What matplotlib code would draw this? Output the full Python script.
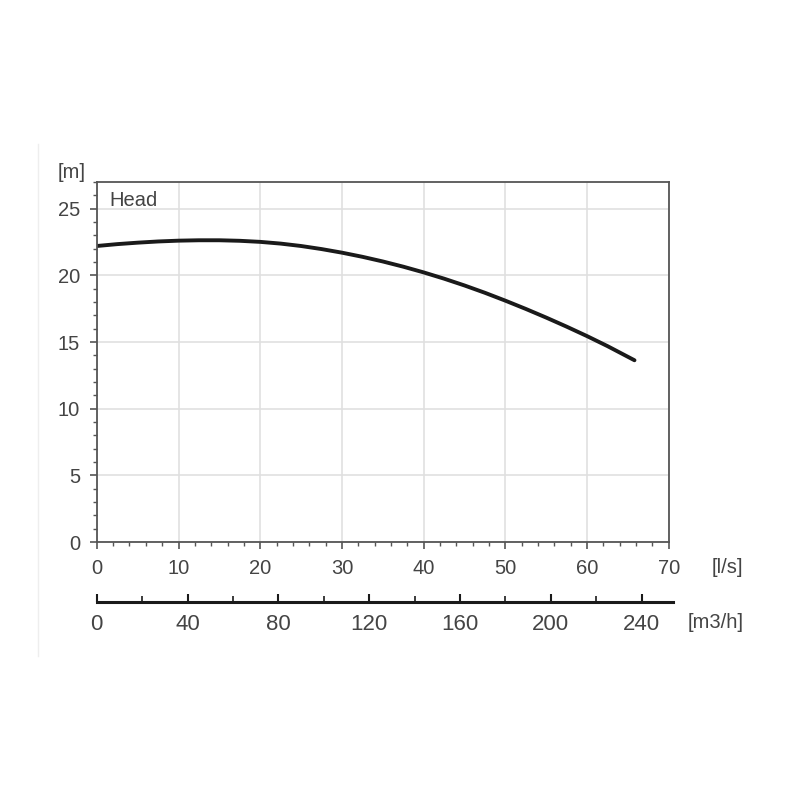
import matplotlib.pyplot as plt
from matplotlib.ticker import MultipleLocator

plt.rcParams['font.family'] = ['Liberation Sans', 'DejaVu Sans']

# Pump curve
flow_ls = [0, 2.5, 5, 7.5, 10, 12.5, 15, 17.5, 20, 22.5, 25, 27.5, 30, 32.5, 35,
           37.5, 40, 42.5, 45, 47.5, 50, 52.5, 55, 57.5, 60, 62.5, 65.8]
head_m = [22.2, 22.34, 22.45, 22.54, 22.6, 22.63, 22.63, 22.59, 22.51, 22.38, 22.2,
          21.97, 21.7, 21.39, 21.04, 20.65, 20.22, 19.75, 19.24, 18.69, 18.1, 17.48,
          16.83, 16.15, 15.44, 14.69, 13.63]

x_ticks = [0, 10, 20, 30, 40, 50, 60, 70]
y_ticks = [0, 5, 10, 15, 20, 25]
m3h_ticks = [0, 40, 80, 120, 160, 200, 240]

txt = '#444444'
fs = 14.5

fig = plt.figure(figsize=(8, 8), dpi=100)
ax = fig.add_axes([0.121, 0.3225, 0.715, 0.45])

ax.plot(flow_ls, head_m, color='#1a1a1a', lw=2.8, solid_capstyle='round')
ax.set_xlim(0, 70)
ax.set_ylim(0, 27)
ax.set_xticks(x_ticks)
ax.set_yticks(y_ticks)
ax.xaxis.set_minor_locator(MultipleLocator(2))
ax.yaxis.set_minor_locator(MultipleLocator(1))
ax.tick_params(which='major', direction='out', length=5, width=1.2, color='#555555',
               labelsize=fs, labelcolor=txt, pad=7)
ax.tick_params(which='minor', direction='out', length=3, width=1.0, color='#555555')
ax.grid(True, which='major', color='#e0e0e0', lw=1.2)
ax.set_axisbelow(True)
for s in ax.spines.values():
    s.set_color('#555555')
    s.set_linewidth(1.3)

ax.text(0.022, 0.975, 'Head', transform=ax.transAxes, ha='left', va='top',
        fontsize=fs, color=txt)
fig.text(0.09, 0.784, '[m]', ha='center', va='center', fontsize=fs, color=txt)
fig.text(0.909, 0.291, '[l/s]', ha='center', va='center', fontsize=fs, color=txt)
fig.text(0.894, 0.222, '[m3/h]', ha='center', va='center', fontsize=fs, color=txt)

# secondary flow scale in m3/h
ax2 = fig.add_axes([0.121, 0.2475, 0.715 * 1.007, 0.001])
ax2.set_xlim(0, 70 * 3.6 * 1.007)
ax2.set_xticks(m3h_ticks)
ax2.xaxis.set_minor_locator(MultipleLocator(20))
ax2.set_yticks([])
for k in ['top', 'left', 'right']:
    ax2.spines[k].set_visible(False)
ax2.spines['bottom'].set_color('#1a1a1a')
ax2.spines['bottom'].set_linewidth(2.2)
ax2.patch.set_alpha(0)
ax2.tick_params(which='major', direction='in', length=6, width=1.5, color='#1a1a1a',
                labelsize=fs + 1.5, labelcolor=txt, pad=9)
ax2.tick_params(which='minor', direction='in', length=4, width=1.2, color='#1a1a1a')

# faint screenshot edge on the left
fig.add_artist(plt.Line2D([0.048, 0.048], [0.18, 0.82], color='#eeeeee', lw=1))

fig.savefig('out.png', dpi=100)
